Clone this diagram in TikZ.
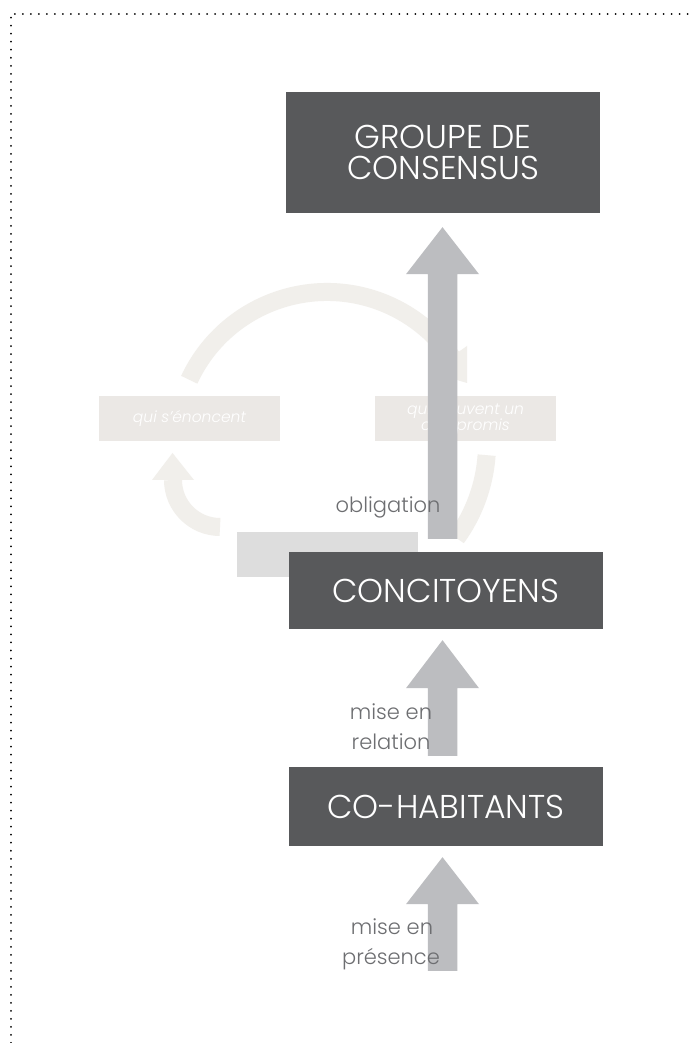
\documentclass[tikz,border=0pt]{standalone}
\usepackage{fontspec}
\setmainfont{Poppins}[UprightFont={* Light}, ItalicFont={* Light Italic}]
\usetikzlibrary{calc}
\definecolor{darkbox}{HTML}{58595B}
\definecolor{arrowgray}{HTML}{BCBDC0}
\definecolor{labgray}{HTML}{6D6E71}
\definecolor{cycbeige}{HTML}{F1EFEB}
\definecolor{lightbox}{HTML}{EBE8E5}
\definecolor{blankgray}{HTML}{DDDDDD}
\tikzset{
  bigbox/.style={fill=darkbox, text=white, inner sep=0pt, minimum width=314pt, align=center,
    font=\fontsize{33}{31}\selectfont},
  softbox/.style={fill=lightbox, text=white, inner sep=0pt, minimum width=181pt, minimum height=45pt,
    align=center, font=\fontsize{15.5}{16}\selectfont\itshape},
  blankbox/.style={fill=blankgray, inner sep=0pt, minimum width=181pt, minimum height=45pt},
  lab/.style={text=labgray, inner sep=0pt, anchor=base, font=\fontsize{21}{22}\selectfont},
  cycband/.style={draw=cycbeige, line width=18pt},
  border/.style={draw=black, line width=2pt, dash pattern=on 0.01pt off 8pt, line cap=round},
}
\newcommand{\blockarrow}[3]{% base, tip, head length
  \fill[arrowgray] ($(#1)+(-14.75,0)$) -- ($(#2)+(-14.75,-#3)$) -- ($(#2)+(-36.5,-#3)$) -- (#2)
    -- ($(#2)+(36.5,-#3)$) -- ($(#2)+(14.75,-#3)$) -- ($(#1)+(14.75,0)$) -- cycle;}
\begin{document}
\begin{tikzpicture}[x=1pt,y=1pt]
\useasboundingbox (0,0) rectangle (688,1043);
\fill[white] (0,0) rectangle (688,1043);
% dotted frame
\draw[border] (10.5,0) -- (10.5,1029) -- (688,1029);
% faint cycle
\coordinate (cc) at (327,599);
\draw[cycband] ($(cc)+(155:152)$) arc[start angle=155, end angle=30, radius=152];
\fill[cycbeige] (467,697) -- (467,660) -- (430,671) -- cycle;
\draw[cycband] ($(cc)+(-4:160)$) arc[start angle=-4, end angle=-36, radius=160];
\draw[cycband] (220,516) arc[start angle=270, end angle=180, radius=47];
\fill[cycbeige] (152,563) -- (194,563) -- (172.5,590) -- cycle;
\node[softbox] (enonce) at (189.5,624.5) {qui s’énoncent};
\node[softbox] (compromis) at (465.5,624.5) {qui trouvent un\\compromis};
\node[blankbox] (blank) at (327.5,488.5) {};
% main boxes
\node[bigbox, minimum height=121pt] (groupe) at (443,890.5) {GROUPE DE\\CONSENSUS};
\node[bigbox, minimum height=77pt] (concit) at (446,452.5) {CONCITOYENS};
\node[bigbox, minimum height=79pt] (cohab) at (446,236.5) {CO-HABITANTS};
% arrows
\coordinate (a1s) at ($(concit.north)+(-3.5,13)$);
\coordinate (a1t) at ($(groupe.south)+(-0.5,-14)$);
\coordinate (a2s) at ($(cohab.north)+(-3.5,11)$);
\coordinate (a2t) at ($(concit.south)+(-3.5,-11)$);
\coordinate (a3s) at (442.5,72);
\coordinate (a3t) at ($(cohab.south)+(-3.5,-11)$);
\blockarrow{a1s}{a1t}{47}
\blockarrow{a2s}{a2t}{48}
\blockarrow{a3s}{a3t}{47}
% labels
\node[lab] (obl) at (388,530) {obligation};
\node[lab] (rel1) at (391,323) {mise en};
\node[lab] (rel2) at (391,293) {relation};
\node[lab] (pres1) at (392,108) {mise en};
\node[lab] (pres2) at (391,78) {présence};
\end{tikzpicture}
\end{document}
